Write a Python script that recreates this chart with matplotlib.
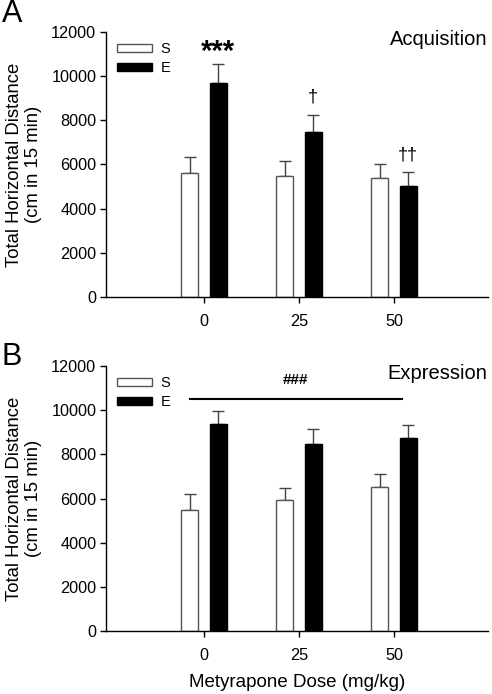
import matplotlib
matplotlib.use("Agg")
import matplotlib.pyplot as plt
from matplotlib.patches import Patch
import numpy as np

plt.rcParams['font.family'] = ['Liberation Sans', 'DejaVu Sans']

# doses (mg/kg)
doses = ["0", "25", "50"]

# Panel A - Acquisition (means and top of error bar)
acq_S = [5630, 5494, 5404]
acq_S_top = [6355, 6158, 6008]
acq_E = [9690, 7457, 5026]
acq_E_top = [10566, 8242, 5660]

# Panel B - Expression
exp_S = [5466, 5917, 6504]
exp_S_top = [6188, 6489, 7106]
exp_E = [9380, 8476, 8732]
exp_E_top = [9967, 9124, 9335]

acq_marks = ["***", "\u2020", "\u2020\u2020"]

fig = plt.figure(figsize=(4.92, 6.94), dpi=100)
axA = fig.add_axes([0.2154, 0.572, 0.7765, 0.382])
axB = fig.add_axes([0.2154, 0.0903, 0.7765, 0.3827])

x = np.arange(len(doses))
w = 0.18
off = 0.15


def draw(ax, s, s_top, e, e_top, title):
    s = np.array(s); e = np.array(e)
    ax.bar(x - off, s, w, color="white", edgecolor="#555555", linewidth=1.0, zorder=2)
    ax.bar(x + off, e, w, color="black", edgecolor="black", linewidth=1.0, zorder=2)
    ax.errorbar(x - off, s, yerr=[np.zeros(3), np.array(s_top) - s], fmt="none",
                ecolor="#444444", elinewidth=1.0, capsize=4.5, capthick=1.0, zorder=1)
    ax.errorbar(x + off, e, yerr=[np.zeros(3), np.array(e_top) - e], fmt="none",
                ecolor="#444444", elinewidth=1.0, capsize=4.5, capthick=1.0, zorder=1)
    ax.set_xlim(-1.03, 2.99)
    ax.set_ylim(0, 12000)
    ax.set_yticks(range(0, 12001, 2000))
    ax.set_xticks(x)
    ax.set_xticklabels(doses)
    for sp in ["top", "right"]:
        ax.spines[sp].set_visible(False)
    for sp in ["left", "bottom"]:
        ax.spines[sp].set_linewidth(1.0)
    ax.tick_params(axis="y", direction="out", length=4, width=1, labelsize=11.7, pad=3)
    ax.tick_params(axis="x", direction="out", length=4, width=1, labelsize=11.7, pad=8)
    ax.set_ylabel("Total Horizontal Distance\n(cm in 15 min)", fontsize=13.3, linespacing=1.1)
    ax.yaxis.set_label_coords(-0.168, 0.5)
    ax.text(0.998, 0.97, title, transform=ax.transAxes, ha="right", va="center", fontsize=14.5)
    handles = [Patch(facecolor="white", edgecolor="#555555", linewidth=1.0, label="S"),
               Patch(facecolor="black", edgecolor="black", label="E")]
    ax.legend(handles=handles, loc="upper left", bbox_to_anchor=(0.02, 0.972), frameon=False,
              fontsize=10.5, handlelength=2.4, handleheight=0.5, handletextpad=0.6,
              labelspacing=0.35, borderpad=0.2, borderaxespad=0)


draw(axA, acq_S, acq_S_top, acq_E, acq_E_top, "Acquisition")
draw(axB, exp_S, exp_S_top, exp_E, exp_E_top, "Expression")

# significance marks, panel A
mark_y = [11100, 9058, 6431]
for i, m in enumerate(acq_marks):
    if m == "***":
        axA.text(x[i] + off, mark_y[i], m, ha="center", va="center", fontsize=21, fontweight="bold")
    else:
        axA.text(x[i] + off, mark_y[i], m, ha="center", va="center", fontsize=13)

# panel B bar and ###
axB.plot([-0.15, 2.08], [10494, 10494], color="black", linewidth=1.5)
axB.text(0.96, 11355, "###", ha="center", va="center", fontsize=11, fontweight="bold")

axB.set_xlabel("Metyrapone Dose (mg/kg)", fontsize=13.5, labelpad=8)

fig.text(0.004, 0.98, "A", fontsize=22, ha="left", va="center")
fig.text(0.004, 0.486, "B", fontsize=22, ha="left", va="center")

fig.savefig("out.png", dpi=100)
